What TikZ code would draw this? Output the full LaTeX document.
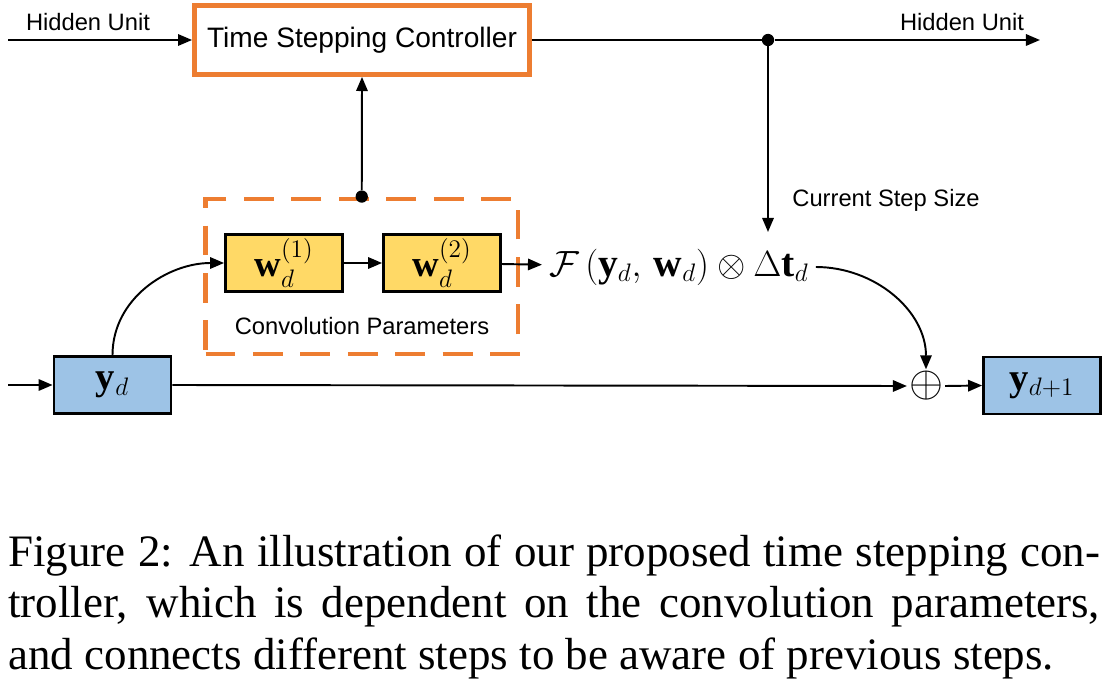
\documentclass[tikz,border=0pt]{standalone}
\usepackage{amsmath}
\usepackage{fontspec}
\setmainfont{Liberation Serif}
\setsansfont{Liberation Sans}
\usetikzlibrary{positioning,arrows.meta}
\definecolor{ctrlorange}{HTML}{ED7D31}
\definecolor{wyellow}{HTML}{FFD966}
\definecolor{yblue}{HTML}{9DC3E6}

\begin{document}
\begin{tikzpicture}[x=0.02cm,y=-0.02cm,
  conn/.style={line width=1.1pt,-{Triangle[length=8pt,width=6.5pt]}},
  wbox/.style={draw,line width=1.6pt,fill=wyellow,minimum width=2.34cm,minimum height=1.14cm,inner sep=0pt,font=\fontsize{21}{24}\selectfont},
  ybox/.style={draw,line width=1.6pt,fill=yblue,minimum width=2.34cm,minimum height=1.14cm,inner sep=0pt,font=\fontsize{22}{24}\selectfont},
  lbl/.style={font=\sffamily\fontsize{13.5}{16}\selectfont,inner sep=0pt},
  dot/.style={circle,fill=black,inner sep=0pt,minimum size=7pt}]
\useasboundingbox (0,0) rectangle (1110,679);
\node[draw=ctrlorange,line width=2.8pt,minimum width=6.7cm,minimum height=1.38cm,font=\sffamily\fontsize{16}{19}\selectfont] (ctrl) at (362,40) {Time Stepping Controller};
\coordinate (hin) at (8,40);
\coordinate (hout) at (1040,40);
\node[lbl] (hinlbl) at (88,22) {Hidden Unit};
\node[lbl] (houtlbl) at (962,22) {Hidden Unit};
\node[dot] (split) at (768,40) {};
\coordinate (stepin) at (768,232);
\node[lbl] (steplbl) at (886,200) {Current Step Size};
\node[draw=ctrlorange,line width=2.8pt,dash pattern=on 17pt off 10pt,minimum width=6.25cm,minimum height=3.1cm] (conv) at (361.75,276.5) {};
\node[dot] (convtop) at (conv.north) {};
\node[wbox] (w1) at (284,263) {$\mathbf{w}_d^{(1)}$};
\node[wbox] (w2) at (442,263) {$\mathbf{w}_d^{(2)}$};
\node[lbl] (convlbl) at (362,326) {Convolution Parameters};
\node[anchor=west,inner sep=4pt,font=\fontsize{22.5}{24}\selectfont] (f) at (542,267) {$\mathcal{F}\,(\mathbf{y}_d,\,\mathbf{w}_d)\otimes\Delta\mathbf{t}_d$};
\node[ybox] (yd) at (112.5,385) {$\mathbf{y}_d$};
\node[inner sep=1pt,font=\fontsize{28}{30}\selectfont] (sum) at (926,386) {$\oplus$};
\node[ybox] (yd1) at (1042,385.5) {$\mathbf{y}_{d+1}$};
\coordinate (ydin) at (8,385);
\draw[conn] (hin) -- (ctrl.west);
\draw[line width=1.1pt] (ctrl.east) -- (split);
\draw[conn] (split) -- (hout);
\draw[conn] (split) -- (stepin);
\draw[conn] (convtop) -- (ctrl.south);
\draw[conn] (w1) -- (w2);
\draw[conn] (w2) -- (f);
\draw[conn] (yd.north) to[out=90,in=180] (w1.west);
\draw[conn] (f.east) to[out=0,in=90] (sum.north);
\draw[conn] (ydin) -- (yd.west);
\draw[conn] (yd.east) -- (sum.west);
\draw[conn] (sum.east) -- (yd1.west);
\node[anchor=north west,inner sep=0pt,text width=21.84cm,align=justify,font=\fontsize{25.6}{29.5}\selectfont] (cap) at (8,534) {Figure 2: An illustration of our proposed time stepping con-\linebreak troller, which is dependent on the convolution parameters,\linebreak and connects different steps to be aware of previous steps.};
\end{tikzpicture}
\end{document}
